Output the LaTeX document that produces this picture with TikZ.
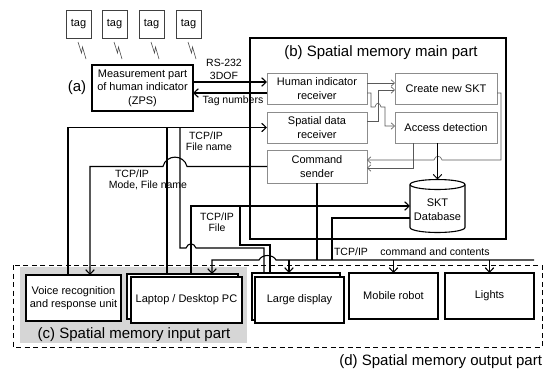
\documentclass[tikz,border=0pt]{standalone}
\usepackage{fontspec}
\setmainfont{Liberation Sans}
\usetikzlibrary{arrows.meta,calc}
\begin{document}
\begin{tikzpicture}[x=1pt,y=-1pt,
  every node/.style={inner sep=0pt, outer sep=0pt, align=center, font=\fontsize{11}{13.5}\selectfont},
  tagbox/.style={draw=black!75, line width=0.6pt, minimum width=25pt, minimum height=28pt},
  bigbox/.style={draw, line width=1.4pt, fill=white},
  inbox/.style={draw=black!45, line width=0.8pt, fill=white},
  conn/.style={line width=1.1pt},
  arr/.style={conn, -{Straight Barb[length=4.5pt,width=8.5pt]}},
  thinl/.style={draw=black!65, line width=0.6pt},
  tarr/.style={thinl, -{Straight Barb[length=3.5pt,width=6.5pt]}},
  lbl/.style={font=\fontsize{10.5}{10.5}\selectfont},
  ttl/.style={font=\fontsize{15}{18}\selectfont},
  bolt/.style={draw=black!70, line width=0.6pt},
]
\useasboundingbox (0,0) rectangle (544,373);

% background regions
\fill[black!16] (20,267) rectangle (247,343);
\draw[dash pattern=on 5pt off 3.5pt, line width=0.9pt] (13,265) rectangle (542,347);

% tags
\foreach \n/\cx in {1/78.5,2/114.5,3/151.5,4/188.5}{
  \node[tagbox] (t\n) at (\cx,24) {tag};
  \draw[bolt] (\cx-0.5,42) -- (\cx+3,53) -- (\cx+4,47) -- (\cx+7.5,59);
}

% measurement part
\node[bigbox, minimum width=101pt, minimum height=46pt] (zps) at (142.5,88) {Measurement part\\of human indicator\\(ZPS)};
\node[ttl] (la) at (77,88) {(a)};

% main part
\node[draw, line width=1.7pt, minimum width=256pt, minimum height=201pt] (main) at (378,138.5) {};
\node[ttl] (mt) at (381,53) {(b) Spatial memory main part};
\node[inbox, minimum width=100pt, minimum height=31pt] (hir) at (317,88.5) {Human indicator\\receiver};
\node[inbox, minimum width=100pt, minimum height=31pt] (sdr) at (317,127.5) {Spatial data\\receiver};
\node[inbox, minimum width=100pt, minimum height=33pt] (cs) at (317,166.5) {Command\\sender};
\node[inbox, minimum width=102pt, minimum height=31pt] (cns) at (446,88.5) {Create new SKT};
\node[inbox, minimum width=102pt, minimum height=31pt] (ad) at (446,127.5) {Access detection};

% database cylinder
\node[minimum width=55pt, minimum height=53pt] (db) at (437.5,206) {};
\draw[line width=1.1pt, fill=white] (410,184.5) -- (410,227.5) arc[start angle=180, end angle=360, x radius=27.5pt, y radius=5pt] -- (465,184.5);
\draw[line width=1.1pt, fill=white] (437.5,184.5) ellipse [x radius=27.5pt, y radius=5pt];
\node (dbt) at (437.5,209.5) {SKT\\Database};

% output boxes
\node[bigbox, minimum width=95pt, minimum height=46pt] (voice) at (73.5,298) {Voice recognition\\and response unit};
\node[bigbox, minimum width=111pt, minimum height=45pt] (lapb) at (182.5,296.5) {};
\node[bigbox, minimum width=111pt, minimum height=46pt] (lap) at (186.5,300) {Laptop / Desktop PC};
\node[bigbox, minimum width=88pt, minimum height=47pt] (ldb) at (296,296.5) {};
\node[bigbox, minimum width=89pt, minimum height=46pt] (ld) at (299.5,300) {Large display};
\node[bigbox, minimum width=89pt, minimum height=46pt] (mob) at (393.5,296) {Mobile robot};
\node[bigbox, minimum width=89pt, minimum height=46pt] (lig) at (489.5,296) {Lights};

\node[ttl] (lc) at (134,335) {(c) Spatial memory input part};
\node[ttl, anchor=east] (ldl) at (542,362) {(d) Spatial memory output part};

% ZPS <-> human indicator receiver
\coordinate (z1) at ([yshift=6pt]zps.east);
\draw[arr] (z1) -- (z1 -| hir.west);
\coordinate (z2) at ([yshift=-5pt]zps.east);
\draw[arr] (z2 -| hir.west) -- (z2);
\node[lbl] (l1) at (224,63) {RS-232};
\node[lbl] (l2) at (224,75.5) {3DOF};
\node[lbl] (l3) at (233,101) {Tag numbers};

% inner connectors
\coordinate (h1) at ([yshift=5.5pt]hir.east);
\draw[tarr] (h1) -- (h1 -| cns.west);
\coordinate (s1) at ([yshift=6.5pt]sdr.east);
\draw[tarr] (s1) -- (378,121) -- (378,90) -- ([yshift=-1.5pt]cns.west);
\coordinate (h2) at ([yshift=-4.5pt]hir.east);
\draw[tarr] (h2) -- (371,93) -- (371,107) -- (375,107) .. controls (376,102) and (380,102) .. (381,107) -- (385,107) -- (385,126) -- ([yshift=1.5pt]ad.west);
\coordinate (c1) at ([yshift=-4.5pt]cns.east);
\draw[tarr] (c1) -- (501,93) -- (501,160) -- (442,160) .. controls (441,155) and (435,155) .. (434,160) -- ([yshift=6.5pt]cs.east);
\draw[tarr] ([xshift=-33pt]ad.south) -- (413,168) -- ([yshift=-1.5pt]cs.east);
\draw[arr, line width=0.9pt] ([xshift=-8.5pt]ad.south) -- (db.north);

% voice / laptop / display -> spatial data receiver
\draw[arr] ([xshift=-5.5pt]voice.north) |- (sdr.west);
\coordinate (jb) at (167,127.5);
\coordinate (jc) at (180,127.5);
\draw[conn] (jb) -- (jb |- lapb.north);
\coordinate (q) at (264,248);
\draw[conn] (jc) -- (180,248) -- (186,248) .. controls (188,242.5) and (194,242.5) .. (196,248) -- (q) -- (q |- ldb.north);
\node[lbl] (l4) at (206,136) {TCP/IP};
\node[lbl] (l5) at (209,147) {File name};

% command sender -> voice unit
\draw[arr] (cs.west) -- (187,166.5) .. controls (184,154) and (166,154) .. (163,166.5) -- (90,166.5) -- ([xshift=16.5pt]voice.north);
\node[lbl] (l6) at (132,174) {TCP/IP};
\node[lbl] (l7) at (148,185) {Mode, File name};

% laptop -> database (and large display)
\draw[arr] ([xshift=8.5pt]lapb.north) |- (db.west);
\coordinate (jf) at (240,206);
\coordinate (r) at (270,245);
\draw[conn] (jf) |- (r) -- (r |- ldb.north);
\node[lbl] (l8) at (217,216.5) {TCP/IP};
\node[lbl] (l9) at (217,227.5) {File};

% command and contents bus
\coordinate (busL) at (212,260);
\coordinate (busR) at (534,260);
\draw[conn] (cs.south) -- (cs.south |- busL);
\draw[arr] (busR) -- (276,260) .. controls (273,254) and (262,254) .. (259,260) -- (busL) -- (busL |- lapb.north);
\coordinate (b1) at ([xshift=-7pt]ldb.north);
\draw[arr] (b1 |- busL) -- (b1);
\draw[arr] (mob.north |- busL) -- (mob.north);
\draw[arr] (lig.north |- busL) -- (lig.north);
\coordinate (d1) at ([yshift=-12pt]db.west);
\coordinate (d2) at (332,260);
\draw[conn] (d1) -| (d2);
\node[lbl] (l10) at (351,252) {TCP/IP};
\node[lbl] (l11) at (435,252) {command and contents};
\end{tikzpicture}
\end{document}
